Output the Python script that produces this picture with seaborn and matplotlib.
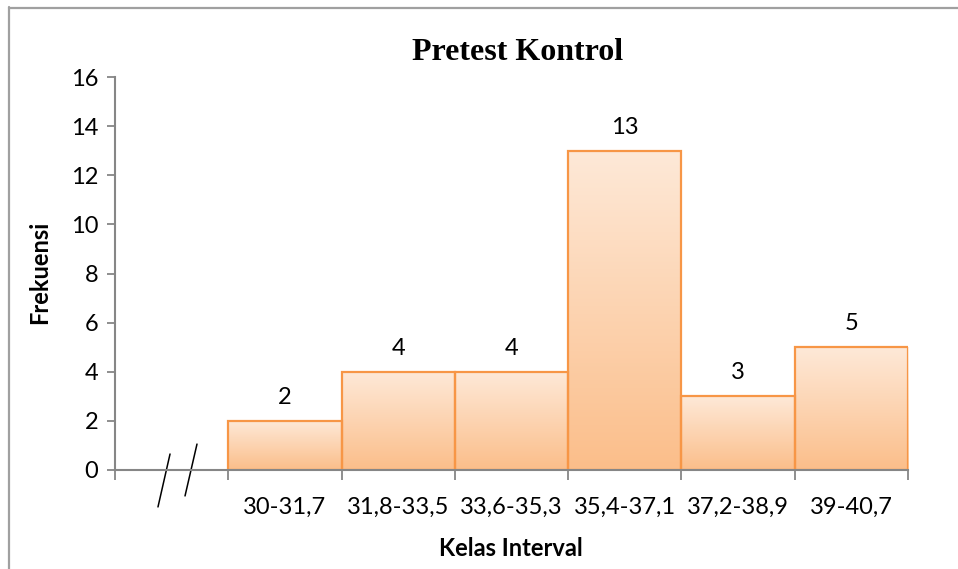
import matplotlib
matplotlib.use("Agg")
import matplotlib.pyplot as plt
import numpy as np
import pandas as pd
import seaborn as sns
from matplotlib.colors import LinearSegmentedColormap

categories = ["30-31,7", "31,8-33,5", "33,6-35,3", "35,4-37,1", "37,2-38,9", "39-40,7"]
frekuensi = [2, 4, 4, 13, 3, 5]
yticks = [0, 2, 4, 6, 8, 10, 12, 14, 16]
title = "Pretest Kontrol"
xlabel = "Kelas Interval"
ylabel = "Frekuensi"

sns.set_theme(style="white")
plt.rcParams['font.family'] = ['Lato', 'DejaVu Sans']
plt.rcParams['text.color'] = 'black'

fig = plt.figure(figsize=(9.58, 5.69), dpi=100)
ax = fig.add_axes([115/958, 1-470/569, 793/958, 393/569])

df = pd.DataFrame({"kelas": categories, "frek": frekuensi})
sns.barplot(data=df, x="kelas", y="frek", order=categories, width=1.0,
            color="#FBD0AE", edgecolor="#F79646", linewidth=1.6, ax=ax, zorder=2)

# gradient fill clipped to each bar
cmap = LinearSegmentedColormap.from_list("grad", ["#FBBE8A", "#FEE9D8"])
grad = np.linspace(0, 1, 256).reshape(-1, 1)
for p in list(ax.patches):
    x0, y0 = p.get_x(), p.get_y()
    w, h = p.get_width(), p.get_height()
    im = ax.imshow(grad, cmap=cmap, aspect="auto", origin="lower",
                   extent=[x0, x0 + w, y0, y0 + h], zorder=2.5)
    im.set_clip_path(p)
    p.set_facecolor("none")
    p.set_zorder(3)
ax.set_xlim(-1.5, len(categories) - 0.5)
ax.set_ylim(0, 16)

# value labels
for i, v in enumerate(frekuensi):
    ax.annotate(str(v), (i, v), xytext=(0, 17), textcoords="offset points",
                ha="center", va="center", fontsize=17, color="black")

# ticks
ax.set_yticks(yticks)
ax.set_yticklabels([str(t) for t in yticks], fontsize=17)
bounds = np.arange(-1.5, len(categories), 1.0)
ax.set_xticks(bounds)
ax.set_xticklabels([""] * len(bounds))
ax.set_xticks(np.arange(len(categories)), minor=True)
ax.set_xticklabels(categories, minor=True, fontsize=17)
ax.tick_params(axis="x", which="minor", bottom=False, length=0, pad=19, labelcolor="black")
ax.tick_params(axis="x", which="major", bottom=True, length=7, width=1.3, color="#868686", direction="out")
ax.tick_params(axis="y", which="major", left=True, length=6, width=1.3, color="#868686",
               direction="out", pad=6, labelcolor="black")

for s in ["top", "right"]:
    ax.spines[s].set_visible(False)
for s in ["left", "bottom"]:
    ax.spines[s].set_color("#868686")
    ax.spines[s].set_linewidth(1.5)
    ax.spines[s].set_zorder(4)

ax.set_xlabel("")
ax.set_ylabel("")
fig.text(511/958, 1-548/569, xlabel, ha="center", va="center", fontsize=17, fontweight="bold", color="black")
fig.text(40/958, 1-272/569, ylabel, ha="center", va="center", fontsize=17, fontweight="bold",
         rotation=90, color="black")
fig.text(518/958, 1-52/569, title, ha="center", va="center", fontsize=23, fontweight="bold",
         family=["Liberation Serif", "DejaVu Serif"], color="black")

# axis break marks
ax.plot([0.0542, 0.0694], [-0.094, 0.0407], transform=ax.transAxes, color="black", lw=1.1, clip_on=False)
ax.plot([0.0883, 0.1034], [-0.066, 0.066], transform=ax.transAxes, color="black", lw=1.1, clip_on=False)

# chart area border
fig.add_artist(plt.Line2D([9/958, 9/958], [0, 1-7/569], transform=fig.transFigure, color="#A0A0A0", lw=1.6))
fig.add_artist(plt.Line2D([9/958, 1], [1-7.5/569, 1-7.5/569], transform=fig.transFigure, color="#A0A0A0", lw=1.6))

fig.savefig("out.png", dpi=100)
